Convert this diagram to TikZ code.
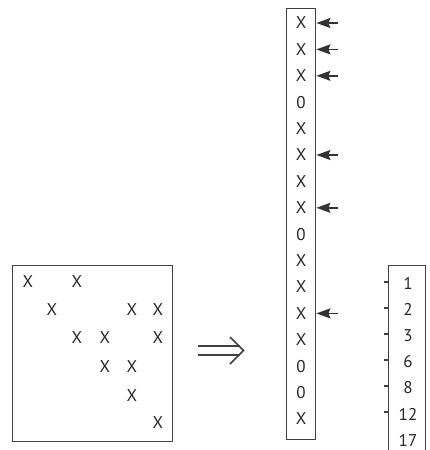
\documentclass[tikz,border=0pt]{standalone}
\usepackage{fontspec}
\setsansfont{PT Sans}
\usetikzlibrary{arrows.meta}
\begin{document}
\begin{tikzpicture}[x=1pt,y=-1pt]
\tikzset{
  entry/.style={inner sep=0pt, text=black!85, font=\sffamily\fontsize{17}{17}\selectfont},
  box/.style={draw=black!75, line width=1.4pt, inner sep=0pt},
  ptr/.style={-{Stealth[length=14pt,width=10pt,inset=2pt]}, line width=1.5pt, draw=black!80, fill=black!80},
  tick/.style={line width=1.3pt, draw=black!75},
  dbl/.style={line width=1.5pt, draw=black!75}
}
\useasboundingbox (0,0) rectangle (429,450);
% matrix box
\node[box, minimum width=160pt, minimum height=176pt, anchor=north west] (mat) at (12,265) {};
\node[entry] (m11) at (28,282) {X};
\node[entry] (m13) at (77,282) {X};
\node[entry] (m22) at (52,310) {X};
\node[entry] (m25) at (132,310) {X};
\node[entry] (m26) at (158,310) {X};
\node[entry] (m33) at (77,338) {X};
\node[entry] (m34) at (105,338) {X};
\node[entry] (m36) at (158,338) {X};
\node[entry] (m44) at (105,367) {X};
\node[entry] (m45) at (132,367) {X};
\node[entry] (m55) at (132,396) {X};
\node[entry] (m66) at (158,423) {X};
% double arrow
\coordinate (d1) at (198,346);
\coordinate (d2) at (240,346);
\coordinate (d3) at (198,355);
\coordinate (d4) at (240,355);
\coordinate (h1) at (230,337);
\coordinate (h2) at (243.5,350.5);
\coordinate (h3) at (230,364);
\draw[dbl] (d1) -- (d2);
\draw[dbl] (d3) -- (d4);
\draw[dbl, line join=miter] (h1) -- (h2) -- (h3);
% vector box
\node[box, minimum width=29pt, minimum height=431pt, anchor=north west] (vec) at (286,8) {};
\foreach \t [count=\i] in {X,X,X,0,X,X,X,X,0,X,X,X,X,0,0,X} {
  \node[entry] (v\i) at (301,{23+(\i-1)*26.4}) {\t};
}
% arrows
\foreach \i in {1,2,3,6,8,12} {
  \coordinate (t\i) at (338,{23+(\i-1)*26.4});
  \draw[ptr] (t\i) -- (vec.east |- t\i);
}
% pointer box
\node[box, minimum width=37pt, minimum height=186pt, anchor=north west] (pb) at (388,265) {};
\foreach \n [count=\i] in {1,2,3,6,8,12,17} {
  \node[entry] (p\i) at (408,{283+(\i-1)*26.2}) {\n};
}
\foreach \i in {1,...,6} {
  \coordinate (k\i) at (384,{282+(\i-1)*26});
  \draw[tick] (k\i) -- (pb.west |- k\i);
}
\end{tikzpicture}
\end{document}
